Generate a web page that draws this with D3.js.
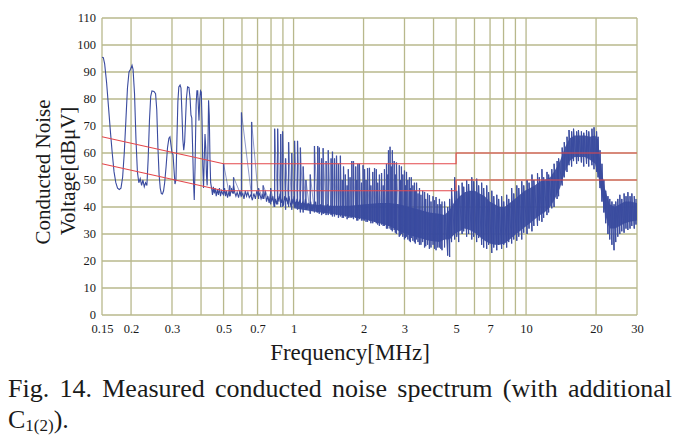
<!DOCTYPE html>
<html><head><meta charset="utf-8">
<script src="https://cdn.jsdelivr.net/npm/d3@7"></script>
<style>
body{margin:0;background:#fff}
svg{display:block}
text{font-family:"Liberation Serif","Times New Roman",serif;fill:#1a1a1a}
</style>
</head><body>
<svg id="c" width="684" height="436"></svg>
<script>
// ---------------- data ----------------
const gridFreqs = [0.15,0.2,0.3,0.4,0.5,0.6,0.7,0.8,0.9,1,2,3,4,5,6,7,8,9,10,20,30];
const xTickLabels = [0.15,0.2,0.3,0.5,0.7,1,2,3,5,7,10,20,30];
const yTicks = [0,10,20,30,40,50,60,70,80,90,100,110];

// limit lines (frequency MHz, dBuV)
const qpLimitFreq  = [0.15,0.5,5,5,30];
const qpLimitLevel = [66,56,56,60,60];
const avLimitFreq  = [0.15,0.5,5,5,30];
const avLimitLevel = [56,46,46,50,50];

// measured trace, low-frequency part [MHz, dBuV]
const mainTrace = [
[0.150,95.5],[0.152,95.3],[0.154,93],[0.157,86],[0.160,77],[0.163,68],[0.166,60],[0.169,53],[0.172,49],[0.175,47],[0.178,46.5],[0.181,47],[0.184,51],[0.187,60],[0.190,72],[0.193,84],[0.196,90],[0.199,91],[0.202,92.5],[0.204,91],[0.207,82],[0.210,65],[0.213,53],[0.216,49],[0.219,50.5],[0.222,48],[0.225,50],[0.228,47.5],[0.231,49],[0.234,48],[0.237,58],[0.240,72],[0.243,81],[0.246,83],[0.251,82.8],[0.255,82],[0.258,76],[0.261,62],[0.264,52],[0.267,47],[0.270,45],[0.273,44.8],[0.276,46],[0.279,49],[0.283,55],[0.287,62],[0.291,65.5],[0.294,66],[0.297,63],[0.300,60],[0.303,59.5],[0.306,54],[0.309,48.5],[0.312,50],[0.315,65],[0.318,79],[0.321,84.5],[0.325,85.2],[0.328,84],[0.331,75],[0.334,65],[0.337,61],[0.340,64],[0.343,72],[0.346,80],[0.350,84.5],[0.355,84.2],[0.359,80],[0.362,74],[0.365,73],[0.368,62],[0.371,50],[0.374,42.6],[0.377,55],[0.381,78],[0.384,83],[0.387,83],[0.390,76],[0.392,72],[0.395,80],[0.398,83],[0.401,82.5],[0.404,72],[0.407,55],[0.410,47],[0.413,58],[0.416,67],[0.419,62],[0.422,52],[0.425,48],[0.428,60],[0.431,79.5],[0.434,74],[0.437,58],[0.440,49],[0.444,47],[0.448,44.5],[0.452,47.5],[0.456,45],[0.460,47],[0.465,44],[0.470,46.5],[0.475,44.5],[0.480,47],[0.485,44],[0.490,46],[0.495,45],[0.500,44.5],[0.505,47],[0.510,44],[0.515,46],[0.520,43.5],[0.527,45.5],[0.533,44],[0.540,47],[0.546,45],[0.552,48],[0.558,45.5],[0.565,44],[0.572,45.5],[0.580,43.5],[0.588,46],[0.595,44],[0.605,45],[0.612,43],[0.620,46],[0.628,44],[0.636,45.5],[0.645,43.5],[0.655,44.5],[0.665,42.5],[0.675,45],[0.685,43],[0.695,46],[0.705,44],[0.715,45],[0.725,43],[0.735,44.5],[0.745,43],[0.755,46],[0.765,42],[0.775,44],[0.785,41.5],[0.795,45],[0.805,42],[0.815,44],[0.825,40],[0.835,43],[0.845,41],[0.855,44],[0.865,42],[0.875,45],[0.885,41.5],[0.895,43],[0.905,40.5],[0.915,44],[0.925,42],[0.935,43.5],[0.945,41],[0.955,44],[0.965,42],[0.975,40],[0.985,43],[0.995,41],[1.005,44],[1.02,40],[1.035,43],[1.05,41],[1.065,42.5],[1.08,39.5],[1.095,42],[1.11,40],[1.125,43],[1.14,39],[1.155,41.5],[1.17,40],[1.185,42],[1.2,38.5],[1.215,41],[1.23,39],[1.245,42],[1.26,38],[1.275,40.5],[1.29,38.5],[1.305,41],[1.32,38],[1.335,40],[1.35,37.5],[1.365,40],[1.38,38],[1.4,41],[1.42,38.5],[1.44,40.5],[1.46,38]
];

// narrow harmonic spikes [MHz, low dBuV, peak dBuV]
const harmonicSpikes = [
[0.500,45,56],[0.531,44,48],[0.552,45,51],[0.597,44,75],[0.660,44,71.5],[0.707,43,47],[0.740,43,48],[0.797,41,47],[0.829,40,69],[0.854,41,69],[0.880,40,67],[0.897,40,68],[0.924,39,58],[0.952,40,64],[0.982,39,60],[1.01,40,64.5],[1.04,39,64.5],[1.07,38,62],[1.10,38,55],[1.13,39,50],[1.18,37.5,52],[1.23,38,62.6],[1.27,38,62.6],[1.29,37.5,62],[1.32,37,58],[1.34,37.5,61.8],[1.38,37,57],[1.41,37,61],[1.45,37,58],[1.47,36.5,60.5],[1.50,36.5,58],[1.53,37,59],[1.56,36,56],[1.59,36.5,59],[1.62,36,50],[1.64,36,55],[1.67,36.5,52],[1.70,35.5,48],[1.72,36,54],[1.75,36,51],[1.78,36,57],[1.81,35.5,57],[1.85,36,55],[1.87,35,50],[1.89,35,56],[1.92,35.5,56],[1.96,35,49],[1.99,35,55.5],[2.02,35,54],[2.05,34.5,50],[2.08,34.5,54.4],[2.12,35,54.5],[2.15,34,48],[2.19,34,53],[2.23,34.5,54.4],[2.27,34,54],[2.30,33.5,49],[2.34,33,52],[2.39,33.5,52.6],[2.43,33,48],[2.46,33,54],[2.51,32,56],[2.54,32,52],[2.56,33,61],[2.60,32,62.3],[2.63,31.5,55],[2.66,31,61],[2.71,31.5,57],[2.74,30.5,52],[2.77,30,56.5],[2.85,29,55.5],[2.88,29.5,50],[2.91,30,55],[2.95,29,52],[3.00,28,53.5],[3.03,28.5,48],[3.06,29,53],[3.10,28,50],[3.15,27.5,51],[3.18,27,47],[3.21,28.5,51],[3.26,27.5,48],[3.31,27,49],[3.34,26.5,46],[3.38,28,49],[3.43,27,45],[3.48,26,47],[3.53,26,44.5],[3.59,27,46],[3.66,25,45.6],[3.70,25.5,43],[3.77,26,45],[3.84,24.5,44.4],[3.90,25,42],[3.98,26,44],[4.04,24.5,42.5],[4.10,24,43.7],[4.17,25,41],[4.24,25,43],[4.30,24.5,41],[4.35,24,42]
];

// dense noise core [MHz, lower dBuV, upper dBuV]
const noiseBand = [
[1.00,39.5,42],[1.18,38.5,41],[1.43,37.5,40.5],[1.74,36.5,40.5],[2.02,35.5,41],[2.34,34,41.5],[2.58,33,41.5],[2.85,31,41],[3.15,29.5,40],[3.48,28.5,39],[3.84,27.5,38],[4.24,27,37.5],[4.46,28,37],[4.69,28,39],[4.93,30,42],[5.18,31,44],[5.44,32,45.5],[5.72,31.5,46],[6.01,30.5,46],[6.31,29,45],[6.64,27.5,44],[6.97,26.5,42],[7.33,26,41],[7.70,26,40],[8.09,26.5,40],[8.50,28,41.5],[8.94,29.5,43],[9.39,31,44.5],[9.87,32.5,46],[10.4,34,47],[10.9,35.5,48],[11.5,37,49.5],[12.0,38,50],[12.7,40,51],[13.3,43,53.5],[14.0,47,57],[14.7,53,62],[15.4,57,65.5],[16.2,58.5,66.5],[17.0,58.5,66.5],[17.9,58.5,66.5],[18.8,57.5,66],[19.8,56,66.5],[20.4,52,65],[20.8,48,58],[21.4,42,51],[21.8,38,47],[22.5,33.5,43],[22.9,32,41],[24.1,32,40],[25.3,33,41],[26.6,34,42],[28.0,34.5,42],[30.0,35,41.5]
];

// noise swing extremes over the dense band [MHz, min dBuV, max dBuV]
const bandSpikes = [
[4.46,25,42],[4.60,22,40],[4.69,21.5,43],[4.78,27,47],[4.93,28,51],[5.03,29,46],[5.13,27,48],[5.31,30,49],[5.39,31,47.5],[5.55,29,50],[5.66,30,48.5],[5.84,28,51],[5.95,29,49.5],[6.13,27,50.5],[6.25,28.5,48],[6.44,26,49],[6.57,25,47],[6.77,24.5,48],[6.90,26,45.5],[7.12,23,46],[7.26,25,44],[7.48,24,44.5],[7.62,26,43],[7.85,24.5,44],[8.01,26,42],[8.25,25,44.5],[8.42,27,43],[8.67,26.5,47],[8.85,28,45],[9.12,27.5,48],[9.30,29,47],[9.58,28,49.5],[9.77,30.5,48],[10.1,30,50],[10.3,32,49],[10.6,31,52],[10.8,33,50],[11.2,33,52.5],[11.4,35,51],[11.7,34.5,54],[11.9,36,51],[12.3,37,53],[12.5,38,52],[12.9,39.5,54],[13.2,40,56],[13.6,43,57],[13.8,44,58],[14.3,48,62],[14.6,51,64],[15.0,53,66],[15.3,55.5,68.5],[15.7,55,68],[16.0,57,69],[16.5,56,68],[16.8,57,68.5],[17.3,56.5,68],[17.7,55,67.5],[18.2,56,68.5],[18.6,55,68],[19.2,55.5,69],[19.6,54,69.5],[20.1,53,68],[20.4,51,66],[20.8,47,61],[21.2,42,56],[21.6,38,50],[22.0,34,46],[22.5,30,44],[22.9,28,43],[23.4,26,42],[23.9,24,41],[24.3,27,42],[24.8,29,43],[25.3,30,44.5],[25.8,31,43],[26.4,30.5,45],[26.9,32,44],[27.4,31.5,45.5],[28.0,32,44],[28.5,33,45],[29.2,32,44],[29.7,33.5,43]
];

const yTitleLines = ["Conducted Noise","Voltage[dB\u03bcV]"];
const xTitle = "Frequency[MHz]";
const captionLine1 = "Fig. 14. Measured conducted noise spectrum (with additional";

// ---------------- drawing ----------------
const svg = d3.select("#c");
const W = 684, H = 436;
const FONT = '"Liberation Serif","Times New Roman",serif';
const x = d3.scaleLog().domain([0.15,30]).range([102,637]);
const y = d3.scaleLinear().domain([0,110]).range([315,18]);
const gridColor = "#b8b88c";
const traceColor = "#3a4b9f";
const limitColor = "#e4484c";

svg.append("rect").attr("width",W).attr("height",H).attr("fill","#fff");

// grid
const grid = svg.append("g").attr("stroke",gridColor).attr("stroke-width",1.3);
grid.selectAll("line.v").data(gridFreqs).join("line").attr("class","v")
  .attr("x1",d=>x(d)).attr("x2",d=>x(d)).attr("y1",y(0)).attr("y2",y(110));
grid.selectAll("line.h").data(yTicks).join("line").attr("class","h")
  .attr("x1",x(0.15)).attr("x2",x(30)).attr("y1",d=>y(d)).attr("y2",d=>y(d));

// clip
svg.append("clipPath").attr("id","plot").append("rect")
  .attr("x",x(0.15)).attr("y",y(110)).attr("width",x(30)-x(0.15)).attr("height",y(0)-y(110));
const data = svg.append("g").attr("clip-path","url(#plot)");

// dense band
data.append("path").datum(noiseBand)
  .attr("fill",traceColor).attr("fill-opacity",0.9)
  .attr("d",d3.area().x(d=>x(d[0])).y0(d=>y(d[1])).y1(d=>y(d[2])));

// zigzag through band extremes
data.append("path").datum(bandSpikes.flatMap(d=>[[d[0],d[1]],[d[0],d[2]]]))
  .attr("fill","none").attr("stroke",traceColor).attr("stroke-width",1).attr("stroke-opacity",0.85)
  .attr("d",d3.line().x(d=>x(d[0])).y(d=>y(d[1])));
data.append("g").attr("stroke",traceColor).attr("stroke-width",1.2).attr("stroke-opacity",0.8)
  .selectAll("line").data(bandSpikes).join("line")
  .attr("x1",d=>x(d[0])).attr("x2",d=>x(d[0])).attr("y1",d=>y(d[1])).attr("y2",d=>y(d[2]));

// harmonic spikes
data.append("g").attr("stroke",traceColor).attr("stroke-width",1.3).attr("stroke-opacity",0.85)
  .selectAll("line").data(harmonicSpikes).join("line")
  .attr("x1",d=>x(d[0])).attr("x2",d=>x(d[0])).attr("y1",d=>y(d[1])).attr("y2",d=>y(d[2]));
data.append("path").datum(harmonicSpikes.flatMap(d=>[[d[0],d[1]],[d[0],d[2]]]))
  .attr("fill","none").attr("stroke",traceColor).attr("stroke-width",0.8).attr("stroke-opacity",0.7)
  .attr("d",d3.line().x(d=>x(d[0])).y(d=>y(d[1])));

// main trace
data.append("path").datum(mainTrace)
  .attr("fill","none").attr("stroke",traceColor).attr("stroke-width",1.1)
  .attr("d",d3.line().x(d=>x(d[0])).y(d=>y(d[1])));

// limit lines
const limLine = d3.line().x(d=>x(d[0])).y(d=>y(d[1]));
[[qpLimitFreq,qpLimitLevel],[avLimitFreq,avLimitLevel]].forEach(([f,l])=>{
  svg.append("path").datum(f.map((v,i)=>[v,l[i]]))
    .attr("fill","none").attr("stroke",limitColor).attr("stroke-width",1.1).attr("d",limLine);
});

// axes
const xAxis = svg.append("g").attr("transform",`translate(0,${y(0)})`)
  .call(d3.axisBottom(x).tickValues(xTickLabels).tickFormat(d=>String(d)).tickSize(0).tickPadding(9));
const yAxis = svg.append("g").attr("transform",`translate(${x(0.15)},0)`)
  .call(d3.axisLeft(y).tickValues(yTicks).tickFormat(d=>String(d)).tickSize(0).tickPadding(6));
[xAxis,yAxis].forEach(a=>{
  a.attr("font-family",FONT);
  a.select(".domain").remove();
  a.selectAll("text").attr("font-size",12.5).attr("fill","#1a1a1a").attr("font-family",FONT);
});
yAxis.selectAll("text").attr("dy","0.3em");

// titles
svg.append("text").attr("transform","translate(50,172) rotate(-90)").attr("text-anchor","middle")
  .attr("font-size",21).text(yTitleLines[0]);
svg.append("text").attr("transform","translate(75,171) rotate(-90)").attr("text-anchor","middle")
  .attr("font-size",21).text(yTitleLines[1]);
svg.append("text").attr("x",350).attr("y",360).attr("text-anchor","middle")
  .attr("font-size",23).text(xTitle);

// caption, justified
(function(){
  const words = captionLine1.split(" ");
  const g = svg.append("g");
  const ts = words.map(w=>g.append("text").attr("font-size",26).attr("y",397).text(w));
  const widths = ts.map(t=>t.node().getComputedTextLength());
  const gap = (672-8-d3.sum(widths))/(words.length-1);
  let cx = 8;
  ts.forEach((t,i)=>{ t.attr("x",cx); cx += widths[i]+gap; });
})();
const c2 = svg.append("text").attr("x",8).attr("y",428).attr("font-size",26);
c2.append("tspan").text("C");
c2.append("tspan").attr("font-size",17).attr("dy",3).text("1(2)");
c2.append("tspan").attr("dy",-3).text(").");
</script>
</body></html>
